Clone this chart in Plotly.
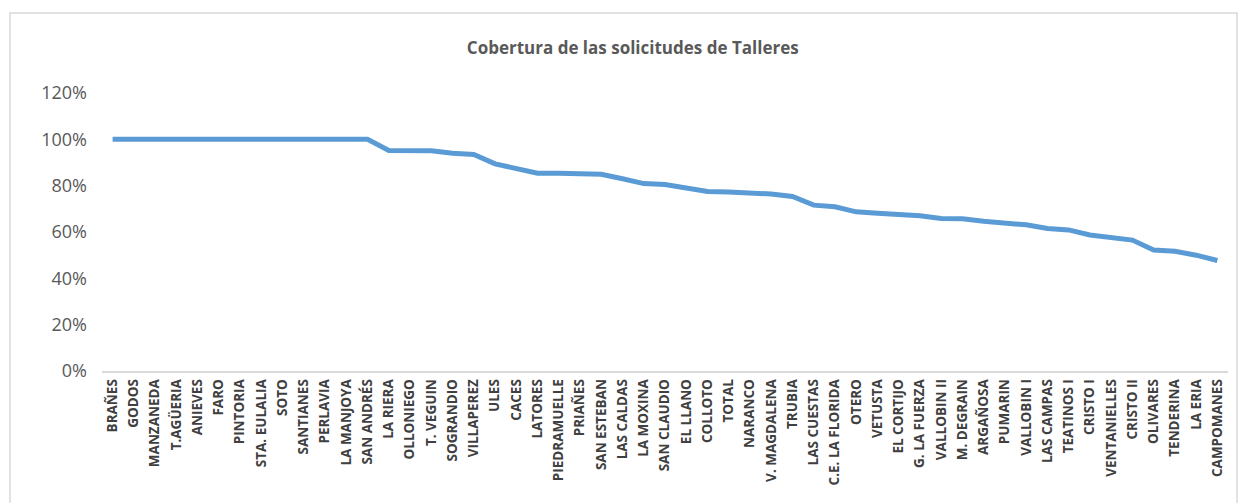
import plotly.graph_objects as go

# Cobertura de las solicitudes de Talleres (%), por centro
centros = [
    "BRAÑES", "GODOS", "MANZANEDA", "T.AGÜERIA", "ANIEVES", "FARO", "PINTORIA",
    "STA. EULALIA", "SOTO", "SANTIANES", "PERLAVIA", "LA MANJOYA", "SAN ANDRÉS",
    "LA RIERA", "OLLONIEGO", "T. VEGUIN", "SOGRANDIO", "VILLAPEREZ", "ULES",
    "CACES", "LATORES", "PIEDRAMUELLE", "PRIAÑES", "SAN ESTEBAN", "LAS CALDAS",
    "LA MOXINA", "SAN CLAUDIO", "EL LLANO", "COLLOTO", "TOTAL", "NARANCO",
    "V. MAGDALENA", "TRUBIA", "LAS CUESTAS", "C.E. LA FLORIDA", "OTERO",
    "VETUSTA", "EL CORTIJO", "G. LA FUERZA", "VALLOBIN II", "M. DEGRAIN",
    "ARGAÑOSA", "PUMARIN", "VALLOBIN I", "LAS CAMPAS", "TEATINOS I", "CRISTO I",
    "VENTANIELLES", "CRISTO II", "OLIVARES", "TENDERINA", "LA ERIA", "CAMPOMANES",
]

cobertura = [
    100, 100, 100, 100, 100, 100, 100, 100, 100, 100, 100, 100, 100,
    95.2, 95.2, 95.1, 94.0, 93.5, 89.4, 87.2, 85.4, 85.4, 85.3, 84.9, 83.0,
    80.9, 80.5, 79.2, 77.5, 77.3, 76.9, 76.4, 75.3, 71.6, 70.9, 68.7,
    68.1, 67.6, 67.0, 65.8, 65.7, 64.6, 63.6, 63.1, 61.5, 60.9, 58.7,
    57.6, 56.5, 52.2, 51.7, 50.0, 47.7,
]

y_ticks = [0, 20, 40, 60, 80, 100, 120]

fig = go.Figure()
fig.add_trace(go.Scatter(
    x=centros,
    y=cobertura,
    mode="lines",
    line=dict(color="#5B9BD5", width=5),
    hoverinfo="x+y",
))

# thin grey frame around the whole chart, like the spreadsheet chart area
fig.add_shape(
    type="rect", xref="paper", yref="paper",
    x0=-0.0817, x1=1.008, y0=-0.6, y1=1.288,
    line=dict(color="#d9d9d9", width=1.5),
    fillcolor="rgba(0,0,0,0)", layer="below",
)

fig.update_layout(
    width=1247,
    height=503,
    paper_bgcolor="white",
    plot_bgcolor="white",
    showlegend=False,
    margin=dict(l=94, r=27, t=85, b=140),
    font=dict(family="Open Sans, Liberation Sans, sans-serif", color="#595959"),
    title=dict(
        text="<b>Cobertura de las solicitudes de Talleres</b>",
        x=0.501, xanchor="center",
        y=0.92, yanchor="middle",
        font=dict(size=17, color="#595959", family="Open Sans, sans-serif"),
    ),
)

fig.update_xaxes(
    type="category",
    range=[-0.5, len(centros) - 0.5],
    tickangle=-90,
    tickfont=dict(size=13.5, color="#404040", family="Open Sans, sans-serif"),
    tickprefix="<b>", ticksuffix="</b>",
    showgrid=False,
    showline=True, linecolor="#d9d9d9", linewidth=1.5,
    ticks="", ticklabelstandoff=1,
    zeroline=False,
)

fig.update_yaxes(
    range=[0, 120],
    tickvals=y_ticks,
    ticktext=[f"{v}%" for v in y_ticks],
    tickfont=dict(size=18, color="#595959"),
    showgrid=False,
    zeroline=False,
    showline=False,
    ticks="", ticklabelstandoff=14,
)

fig.write_html("out.html")
